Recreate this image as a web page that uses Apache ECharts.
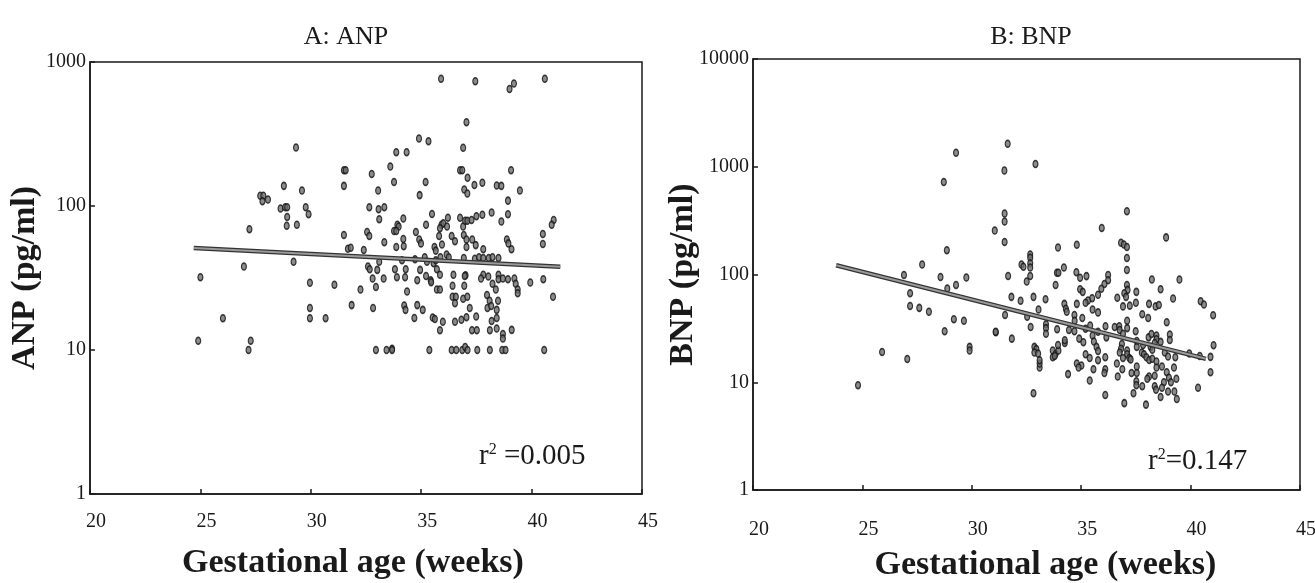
<!DOCTYPE html>
<html>
<head>
<meta charset="utf-8">
<script src="https://cdn.jsdelivr.net/npm/echarts@6/dist/echarts.min.js"></script>
<style>
html,body{margin:0;padding:0;background:#fff;}
#chart{width:1315px;height:583px;}
</style>
</head>
<body>
<div id="chart"></div>
<script>
// ---- Data ----
const xTicks = [20, 25, 30, 35, 40, 45];

const anpWeeks = [
35.9,37.45,39.0,39.2,40.6,37.05,34.9,35.33,36.9,29.33,
33.87,34.34,33.6,39.07,31.5,31.58,36.76,36.86,32.76,37.1,
33.77,35.2,28.78,31.5,37.41,37.77,38.42,38.63,39.47,29.6,
33.05,36.95,37.09,34.93,27.71,27.85,28.06,27.81,38.93,28.63,
28.84,28.93,29.77,32.65,33.07,33.33,28.93,29.9,35.49,38.93,
33.1,34.19,36.21,36.76,36.9,36.99,37.09,37.28,37.5,37.77,
38.19,38.63,41.0,40.91,28.91,29.37,27.22,33.92,33.98,35.22,
35.92,36.0,35.85,36.17,31.5,33.77,33.87,34.76,32.55,32.65,
35.81,36.38,36.93,37.05,38.88,38.95,40.51,40.51,39.09,34.19,
34.21,34.91,34.99,35.94,37.31,37.47,31.68,31.81,32.4,33.33,
33.87,35.6,35.66,36.53,36.15,36.25,37.05,36.93,37.81,38.5,
29.22,26.97,33.1,34.13,34.72,35.16,35.26,35.56,35.66,35.87,
37.43,37.62,37.81,38.06,38.23,32.59,32.67,33.81,34.3,34.95,
35.71,25.0,33.01,37.01,33.3,32.8,33.9,34.27,34.82,35.22,
35.43,35.85,36.46,36.97,37.81,38.04,38.5,38.5,38.93,39.22,
39.28,39.37,39.94,40.53,29.96,31.07,32.95,35.45,35.71,35.85,
36.42,36.95,37.71,38.23,38.38,38.7,32.25,34.36,40.97,36.42,
36.57,36.9,37.09,37.98,38.1,38.48,39.37,31.85,32.82,34.82,
34.23,34.29,35.07,35.52,36.53,37.2,38.0,38.17,29.96,29.96,
30.67,26.02,34.69,35.62,35.98,36.53,36.82,37.05,37.49,38.19,
38.42,38.42,35.85,37.3,37.52,38.11,38.42,38.7,38.7,39.1,
24.9,27.28,27.18,32.95,33.43,33.68,33.68,35.37,36.38,36.59,
36.86,36.99,37.1,37.54,38.11,38.67,38.82,40.57
];
const anpValues = [
766,735,649,710,766,381,294,282,254,255,
236,236,188,177,177,177,177,177,167,157,
147,147,138,138,140,145,139,138,128,128,
128,130,122,119,118,118,111,108,109,96,
98,98,98,98,95,98,84,87.5,88,87.5,
81,82,83,83,72,79,79,80,85,87,
90,78,80,74,73,74,69,74,72,74,
74,76,70,72,63,67,67,66,66,62,
62,62,63,58.5,58.5,55,64,54.5,50,59,
52.6,58.5,55,54,58.5,53.5,50.5,51.3,49.5,56,
52,52,49,57,46,44,52,43.5,50,43.5,
41,38,41,42,42.7,44,41,40,42,44,
43,44,43.5,43.5,44,38,36.4,36.4,36.4,36,
36.4,32,36,33,31.4,31.4,32,32,30.5,32.7,
30.5,33.3,33.3,32.7,33.3,32.4,33.3,31,31,31.4,
28.8,26.3,29.4,31,29.3,28.4,27.4,29.6,26.3,26.3,
27.9,27.9,31.4,28.8,26.3,31.4,26.3,25.5,23.4,23.4,
23.4,22.7,23.4,24.1,22,22,24.8,20.5,19.6,20.5,
20.4,19,19,16.8,21.1,19.6,19.6,20.2,19.6,16.6,
16.6,16.6,16.7,16.4,15.7,15.7,16.2,16.9,17.1,15.9,
19,16.7,13.7,13.7,13.7,13.7,14.1,12.9,12,13.8,
11.6,11.6,10,10,10,10.2,10,10,10,10,
10,10.5,10,10,10,10,10,10
];
const anpFitWeeks = [24.7, 41.3];
const anpFitValues = [51, 37.8];

const bnpWeeks = [
31.64,29.28,32.91,31.49,28.72,37.09,31.5,31.5,31.05,35.94,
31.5,38.88,34.8,33.94,36.82,36.95,37.09,28.86,27.73,32.67,
32.67,32.67,32.67,32.67,32.27,32.36,32.51,34.21,33.89,33.96,
33.83,34.78,34.95,35.24,36.23,36.23,36.06,35.92,37.09,37.09,
26.9,28.57,29.75,29.28,28.88,38.23,39.49,38.63,31.66,34.95,
35.07,37.09,37.12,36.97,37.05,27.18,31.81,32.23,33.37,32.82,
39.2,40.46,40.61,41.03,35.77,35.5,35.31,35.2,37.52,37.5,
38.1,38.4,38.55,27.18,27.6,28.04,34.8,34.23,34.3,34.34,
34.69,35.52,35.77,36.65,36.91,37.22,31.52,32.53,33.05,37.79,
38.06,38.91,34.7,29.18,29.64,35.05,35.41,35.2,33.39,33.39,
33.39,32.69,33.9,28.76,31.1,35.77,36.11,36.15,36.53,36.74,
36.76,36.91,37.1,37.1,37.49,35.52,38.08,38.21,38.44,38.44,
39.05,39.05,39.94,40.42,40.91,41.05,34.91,35.1,34.69,31.83,
32.86,32.95,32.86,33.03,33.1,33.1,33.1,33.7,33.83,33.96,
33.94,34.25,34.25,34.44,33.7,33.79,36.86,36.82,36.76,37.1,
37.1,37.2,37.26,37.54,37.54,37.83,37.77,38.17,38.25,38.36,
38.63,38.82,38.97,39.3,35.58,35.7,35.77,36.1,35.2,35.39,
35.77,36.1,36.06,35.56,36.91,36.63,35.01,34.8,34.88,37.87,
37.98,38.11,38.25,38.44,38.44,38.69,37.54,37.54,38.1,38.02,
38.36,38.36,38.91,39.01,39.35,39.1,39.24,38.78,38.69,38.63,
38.97,39.26,39.37,37.52,37.52,37.79,37.39,36.97,37.96,36.1,
35.39,34.4,36.67,36.88,40.34,40.91,32.82,24.8,25.9,27.05,
29.9,29.9,31.09,38.42,37.3
];
const bnpValues = [
1633,1347,1059,925,722,387,369,310,256,270,
200,221,189,178,197,190,180,168,124,153,
143,127,116,97,124,118,86,116,104,104,
80,105,93.5,96.6,99,88.5,81.6,73.6,142,110,
99,95,94,80,74,90,90,73,97,73,
69,80,72,67,62,67,62,57,59,62,
60,56.5,52.6,41.8,65,60.3,57.4,54.7,69,54.7,
53.4,50.6,52.2,51,49,45.2,53.4,53.4,48.2,45.2,
42.1,47.4,44.5,60.8,50.6,51.4,42.1,40.5,47.4,42.8,
39.5,36.1,37.3,38.5,37.3,39.5,33.6,31.3,34.5,31.8,
28.2,32.6,31.1,29.8,29.1,29.4,33.1,26.1,32.6,33.1,
30.6,28.2,37.3,31.8,29.8,27.1,26.1,28,27.1,25.1,
27.8,24.7,18.5,17.5,17.2,22,25.4,23.5,29.8,25.4,
21.3,20.3,18.9,18.5,13.7,14.9,16,19.7,18.3,19.7,
22.2,23.1,24.5,30.6,17.1,17.5,22.6,20.5,18.9,19.7,
18.2,16.8,16.3,24.1,21.3,22.2,18.9,21.3,20,23.1,
23.7,18.9,17.3,17.1,23.9,21.3,19.5,17.1,18.2,16.8,
16,13.2,12.2,13.2,16.8,14.9,14.3,14.9,13.7,18.2,
17.1,16.1,16.5,15.6,13.7,14,14,12.2,11.3,10.8,
11.5,9.2,12.4,11,10.8,10,13.7,10,8.9,7.3,
8.2,8.2,7,10.2,9.4,9.2,7.9,6.4,6.2,7.6,
10.4,11.9,11.3,13.2,8.9,12.4,7.9,9.4,19.1,16.4,
21.3,19.7,29.4,8.5,12.2
];
const bnpFitWeeks = [23.8, 40.7];
const bnpFitValues = [122, 16.5];

const titles = ['A: ANP', 'B: BNP'];
const yNames = ['ANP (pg/ml)', 'BNP (pg/ml)'];
const xName = 'Gestational age (weeks)';
const r2Labels = ['0.005', '0.147'];

// ---- Build chart ----
const zip = (xs, ys) => xs.map((x, i) => [x, ys[i]]);
const FONT = '"Liberation Serif", "DejaVu Serif", serif';
const INK = '#1a1a1a';

function xAxis(gi, labelMargin, nameGap, namePad) {
  return {
    type: 'value', gridIndex: gi, min: xTicks[0], max: xTicks[xTicks.length - 1], interval: 5,
    axisLine: { show: true, onZero: false, lineStyle: { color: INK, width: 1.5 } },
    axisTick: { show: true, inside: true, length: 5, lineStyle: { color: INK, width: 1.5 } },
    splitLine: { show: false },
    axisLabel: { color: INK, fontFamily: FONT, fontSize: 20, margin: labelMargin, padding: [0, 0, 0, 12] },
    name: xName, nameLocation: 'middle', nameGap: nameGap, nameMoveOverlap: false,
    nameTextStyle: { color: INK, fontFamily: FONT, fontSize: 34, fontWeight: 'bold', padding: namePad }
  };
}
function yAxis(gi, max, name, nameGap) {
  return {
    type: 'log', logBase: 10, gridIndex: gi, min: 1, max: max,
    axisLine: { show: true, onZero: false, lineStyle: { color: INK, width: 1.5 } },
    axisTick: { show: true, inside: true, length: 5, lineStyle: { color: INK, width: 1.5 } },
    splitLine: { show: false },
    minorTick: { show: false },
    axisLabel: { color: INK, fontFamily: FONT, fontSize: 20, margin: 4, formatter: v => String(Math.round(v)) },
    name: name, nameLocation: 'middle', nameGap: nameGap, nameMoveOverlap: false,
    nameTextStyle: { color: INK, fontFamily: FONT, fontSize: 34, fontWeight: 'bold' }
  };
}
function scatter(gi, data) {
  return {
    type: 'scatter', xAxisIndex: gi, yAxisIndex: gi, data: data,
    symbol: 'circle', symbolSize: [5, 7],
    itemStyle: { color: '#6e6e6e', borderColor: '#111', borderWidth: 1.3 },
    silent: true, z: 3
  };
}
function fitLines(gi, data) {
  return [
    { type: 'line', xAxisIndex: gi, yAxisIndex: gi, data: data, symbol: 'none',
      lineStyle: { color: '#333', width: 4.5 }, silent: true, z: 4 },
    { type: 'line', xAxisIndex: gi, yAxisIndex: gi, data: data, symbol: 'none',
      lineStyle: { color: '#9a9a9a', width: 2 }, silent: true, z: 5 }
  ];
}

const chart = echarts.init(document.getElementById('chart'), null, { renderer: 'canvas' });
chart.setOption({
  backgroundColor: '#fff',
  animation: false,
  title: [
    { text: titles[0], left: 341, top: 19, textAlign: 'center',
      textStyle: { fontFamily: FONT, fontSize: 26, fontWeight: 'normal', color: INK } },
    { text: titles[1], left: 1026, top: 19, textAlign: 'center',
      textStyle: { fontFamily: FONT, fontSize: 26, fontWeight: 'normal', color: INK } }
  ],
  grid: [
    { left: 90, top: 62, width: 552, height: 432, containLabel: false, outerBoundsMode: 'none',
      show: true, borderColor: INK, borderWidth: 1.5, backgroundColor: 'transparent' },
    { left: 753, top: 59, width: 547, height: 431, containLabel: false, outerBoundsMode: 'none',
      show: true, borderColor: INK, borderWidth: 1.5, backgroundColor: 'transparent' }
  ],
  xAxis: [ xAxis(0, 18, 52, [0, 26, 0, 0]), xAxis(1, 30, 58, [0, 0, 0, 38]) ],
  yAxis: [ yAxis(0, 1000, yNames[0], 48), yAxis(1, 10000, yNames[1], 53) ],
  series: [
    scatter(0, zip(anpWeeks, anpValues)),
    ...fitLines(0, zip(anpFitWeeks, anpFitValues)),
    scatter(1, zip(bnpWeeks, bnpValues)),
    ...fitLines(1, zip(bnpFitWeeks, bnpFitValues))
  ],
  graphic: [
    { type: 'text', left: 479, top: 442, silent: true,
      style: { text: 'r{s|2} =' + r2Labels[0], fontFamily: FONT, fontSize: 29, fill: INK,
        rich: { s: { fontFamily: FONT, fontSize: 16, fill: INK, padding: [0, 0, 13, 0] } } } },
    { type: 'text', left: 1148, top: 447, silent: true,
      style: { text: 'r{s|2}=' + r2Labels[1], fontFamily: FONT, fontSize: 29, fill: INK,
        rich: { s: { fontFamily: FONT, fontSize: 16, fill: INK, padding: [0, 0, 13, 0] } } } }
  ]
});
</script>
</body>
</html>
